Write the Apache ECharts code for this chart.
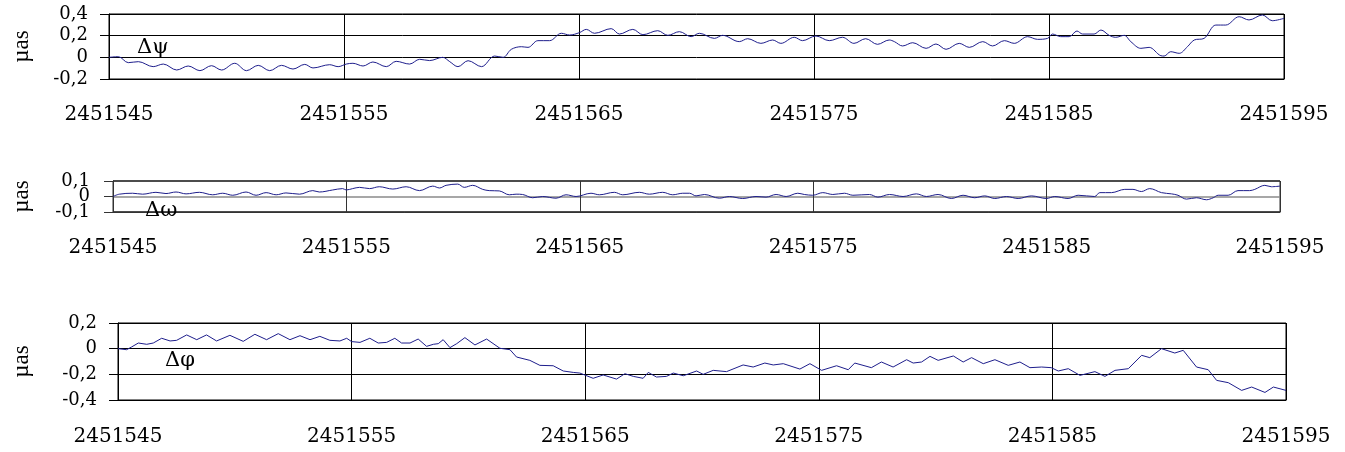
<!DOCTYPE html>
<html>
<head>
<meta charset="utf-8">
<script src="https://cdn.jsdelivr.net/npm/echarts@6/dist/echarts.min.js"></script>
<style>
html,body{margin:0;padding:0;background:#fff;}
#chart{width:1345px;height:452px;}
</style>
</head>
<body>
<div id="chart"></div>
<script>
// Julian date of the first tick; x values below are day offsets from it
const BASE_JD = 2451545;
const xTickStep = 10;

// Δψ
const psiT = [0,0.4,0.82,1.25,1.88,2.31,2.88,3.37,3.87,4.36,4.79,5.35,5.85,6.35,6.84,7.34,7.83,8.33,8.68,9.39,9.75,10.1,10.38,10.81,11.23,11.8,12.22,12.79,13.22,13.64,14.2,14.5,
  14.85,15.28,15.85,16.41,16.77,17.12,17.55,17.83,18.25,18.75,19.25,19.6,20.02,20.31,20.66,21.37,21.72,22.29,22.72,23.35,23.78,24.27,24.77,25.12,25.76,26.11,26.82,27.18,27.74,28.24,28.59,29.16,29.51,30.08,30.65,31.21,31.7,32.2,32.7,33.2,
  33.42,33.77,34.2,34.77,35.19,35.62,36.18,36.61,37.18,37.6,38.1,38.52,39.09,39.51,39.94,40.15,40.5,40.86,41.19,41.43,41.92,42.21,42.56,42.84,43.2,43.48,43.91,44.26,44.76,44.9,45.18,45.54,45.89,46.18,46.6,47.1,47.52,48.09,48.51,49.08,49.5,50];
const psiV = [0,0.006,-0.049,-0.04,-0.086,-0.062,-0.117,-0.08,-0.123,-0.077,-0.117,-0.055,-0.123,-0.074,-0.123,-0.074,-0.108,-0.065,-0.098,-0.068,-0.086,-0.062,-0.055,-0.08,-0.043,-0.086,-0.037,-0.062,-0.018,-0.03,0.0,-0.04,
  -0.086,-0.031,-0.086,0.012,0.0,0.074,0.098,0.092,0.154,0.154,0.222,0.206,0.228,0.258,0.222,0.265,0.215,0.258,0.209,0.246,0.203,0.237,0.191,0.222,0.175,0.203,0.145,0.172,0.129,0.16,0.129,0.185,0.154,0.197,0.154,0.185,0.129,0.172,0.12,0.16,
  0.145,0.105,0.135,0.083,0.123,0.074,0.129,0.092,0.145,0.105,0.154,0.129,0.191,0.166,0.175,0.215,0.191,0.191,0.243,0.215,0.215,0.252,0.203,0.185,0.203,0.145,0.083,0.092,0.015,0.012,0.052,0.037,0.098,0.16,0.175,0.298,0.298,0.375,0.345,0.391,0.338,0.36];

// Δω
const omegaT = [0,0.27,0.84,1.27,1.84,2.27,2.7,3.13,3.7,4.27,4.7,5.13,5.7,6.13,6.56,6.99,7.41,7.99,8.56,8.84,9.41,9.84,9.99,10.27,10.56,10.99,11.41,11.99,12.56,13.13,13.7,13.99,14.27,
  14.77,15.05,15.41,15.84,16.12,16.55,16.98,17.27,17.55,17.98,18.41,18.98,19.41,19.84,20.48,20.84,21.48,21.84,22.55,22.98,23.55,23.98,24.41,24.7,24.98,25.34,25.98,26.41,26.98,27.55,27.98,28.41,28.84,29.34,29.62,29.98,30.41,30.84,31.34,31.7,32.41,32.77,33.27,
  33.85,34.42,34.85,35.35,35.92,36.42,36.92,37.35,37.78,38.28,38.78,39.35,39.99,40.35,40.92,41.35,42.06,42.28,42.78,43.35,43.7,44.06,44.42,44.92,45.35,45.63,45.99,46.42,46.85,47.14,47.35,47.78,48.2,48.7,48.92,49.35,49.63,50];
const omegaV = [0,0.015,0.021,0.015,0.027,0.019,0.029,0.017,0.027,0.011,0.021,0.008,0.029,0.008,0.025,0.011,0.023,0.015,0.038,0.029,0.042,0.051,0.042,0.051,0.059,0.051,0.063,0.048,0.063,0.038,0.067,0.055,0.072,
  0.08,0.059,0.072,0.046,0.038,0.036,0.011,0.015,0.013,-0.008,0,-0.011,0.011,0,0.021,0.011,0.027,0.011,0.027,0.015,0.027,0.011,0.021,0.021,0.004,0.013,-0.011,0,-0.013,0,-0.004,0.013,0,0.021,0.013,0.008,0.025,0.013,0.021,0.008,0.013,-0.004,0.013,
  0,0.017,0,0.013,-0.013,0.008,-0.008,0.004,-0.013,0,-0.013,0.004,-0.013,0,-0.013,0.008,0,0.025,0.025,0.046,0.046,0.032,0.051,0.025,0.017,0.008,-0.017,-0.008,-0.021,-0.008,0.008,0.008,0.038,0.038,0.046,0.072,0.063,0.067];

// Δφ
const phiT = [0,0.37,0.58,0.87,1.23,1.51,1.87,2.23,2.51,2.94,3.37,3.79,4.22,4.79,5.36,5.86,6.36,6.86,7.36,7.79,8.22,8.64,9.07,9.5,9.79,10.0,10.36,10.78,11.14,11.5,11.85,12.14,12.5,12.85,13.21,13.5,13.71,13.92,14.21,
  14.5,14.85,15.28,15.78,16.35,16.78,17.06,17.63,18.06,18.63,19.06,19.49,19.77,20.34,20.77,21.34,21.7,22.06,22.48,22.7,23.05,23.48,23.77,24.2,24.77,25.05,25.48,26.05,26.76,27.19,27.69,28.05,28.48,29.19,29.62,30.12,30.76,31.26,31.54,32.25,32.68,33.18,
  33.76,34.04,34.4,34.76,35.11,35.76,36.18,36.54,37.04,37.54,38.11,38.61,39.04,39.54,39.95,40.25,40.68,41.18,41.82,42.25,42.68,43.25,43.82,44.17,44.67,45.24,45.6,46.17,46.67,47.03,47.53,48.1,48.53,49.1,49.46,50];
const phiV = [0,-0.008,0.013,0.044,0.034,0.044,0.081,0.06,0.065,0.107,0.07,0.107,0.06,0.104,0.057,0.112,0.07,0.117,0.07,0.101,0.07,0.096,0.065,0.06,0.081,0.055,0.049,0.081,0.044,0.049,0.081,0.044,0.044,0.075,0.018,0.034,0.039,0.07,0.008,
  0.039,0.086,0.029,0.075,0.003,-0.008,-0.065,-0.091,-0.13,-0.133,-0.174,-0.185,-0.19,-0.231,-0.205,-0.237,-0.195,-0.216,-0.231,-0.185,-0.221,-0.216,-0.19,-0.211,-0.174,-0.2,-0.169,-0.179,-0.127,-0.143,-0.112,-0.127,-0.117,-0.159,-0.117,-0.169,-0.133,-0.164,-0.112,-0.148,-0.104,-0.143,
  -0.086,-0.112,-0.104,-0.06,-0.091,-0.057,-0.104,-0.07,-0.117,-0.086,-0.13,-0.104,-0.148,-0.143,-0.148,-0.174,-0.156,-0.208,-0.179,-0.216,-0.169,-0.156,-0.052,-0.07,0,-0.034,-0.013,-0.143,-0.164,-0.247,-0.265,-0.325,-0.299,-0.341,-0.299,-0.325];

const panelNames = ['Δψ', 'Δω', 'Δφ'];
const yRanges = [[-0.2, 0.4, 0.2], [-0.1, 0.1, 0.1], [-0.4, 0.2, 0.2]];
const unitName = 'µas';

const chart = echarts.init(document.getElementById('chart'), null, {renderer: 'canvas'});

const grids = [
  {left: 109, top: 14, width: 1175, height: 65},
  {left: 113, top: 181, width: 1167, height: 31},
  {left: 118, top: 323, width: 1168, height: 77}
];
const xMargins = [26, 26, 27];
const yMargins = [21, 23, 21];
const yFontSizes = [18, 18, 18];
const nameGaps = [76, 80, 85];
const frameColors = ['#000', '#333', '#000'];
const labelPos = [[137, 48.5], [145, 211.5], [165, 361.5]];
const serif = 'DejaVu Serif';

function yFmt(v) {
  const r = Math.round(v * 10) / 10;
  return (r === 0 ? '0' : String(r)).replace('.', ',');
}
function toPairs(ts, vs) { return ts.map((t, i) => [t, vs[i]]); }
const seriesData = [toPairs(psiT, psiV), toPairs(omegaT, omegaV), toPairs(phiT, phiV)];

const yAxes = grids.map((g, i) => ({
  gridIndex: i, type: 'value', position: 'left', min: yRanges[i][0], max: yRanges[i][1], interval: yRanges[i][2],
  axisLine: {show: true, lineStyle: {color: frameColors[i], width: 1}},
  axisTick: {show: true, inside: false, length: 9, lineStyle: {color: frameColors[i], width: 1}},
  splitLine: {show: true, lineStyle: {color: i === 1 ? ['#333', '#8a8a8a', '#333'] : '#000', width: i === 1 ? 1.5 : 1}},
  axisLabel: {margin: yMargins[i], fontFamily: serif, fontSize: yFontSizes[i], color: '#000',
    // the middle panel is too short for three labels on one axis; its "0" is drawn by an overlaid axis
    formatter: i === 1 ? (v => Math.abs(v) < 1e-9 ? '' : yFmt(v)) : yFmt,
    showMinLabel: true, showMaxLabel: true, hideOverlap: false},
  name: unitName, nameLocation: 'middle', nameRotate: 90, nameGap: nameGaps[i],
  nameMoveOverlap: false,
  nameTextStyle: {fontFamily: 'Liberation Serif', fontSize: 23, color: '#000'}
}));
// overlay axis for the middle panel's zero label
yAxes.push({
  gridIndex: 1, type: 'value', position: 'left', offset: 0,
  min: yRanges[1][0], max: yRanges[1][1], interval: yRanges[1][2],
  axisLine: {show: false}, axisTick: {show: false}, splitLine: {show: false},
  axisLabel: {margin: yMargins[1], fontFamily: serif, fontSize: yFontSizes[1], color: '#000',
    formatter: v => Math.abs(v) < 1e-9 ? '0' : '', showMinLabel: true, showMaxLabel: true, hideOverlap: false}
});

const option = {
  animation: false,
  backgroundColor: '#fff',
  grid: grids.map((g, i) => Object.assign({show: true, borderColor: frameColors[i], borderWidth: 1, backgroundColor: 'transparent'}, g)),
  xAxis: grids.map((g, i) => ({
    gridIndex: i, type: 'value', min: 0, max: 50, interval: xTickStep,
    axisLine: {show: true, onZero: false, lineStyle: {color: frameColors[i], width: 1}},
    axisTick: {show: false},
    splitLine: {show: true, lineStyle: {color: frameColors[i], width: 1}},
    axisLabel: {margin: xMargins[i], fontFamily: serif, fontSize: 20, color: '#000',
      showMinLabel: true, showMaxLabel: true, hideOverlap: false,
      formatter: v => String(BASE_JD + v)}
  })),
  yAxis: yAxes,
  series: seriesData.map((d, i) => ({
    type: 'line', xAxisIndex: i, yAxisIndex: i, data: d,
    symbol: 'none', smooth: i === 2 ? false : 0.35,
    lineStyle: {color: '#1e1e8c', width: 1}
  })),
  graphic: panelNames.map((n, i) => ({
    type: 'text', left: labelPos[i][0], top: labelPos[i][1] - 11, z: 100,
    style: {text: n, font: '21px "DejaVu Serif"', fill: '#000'}
  }))
};
chart.setOption(option);
</script>
</body>
</html>
